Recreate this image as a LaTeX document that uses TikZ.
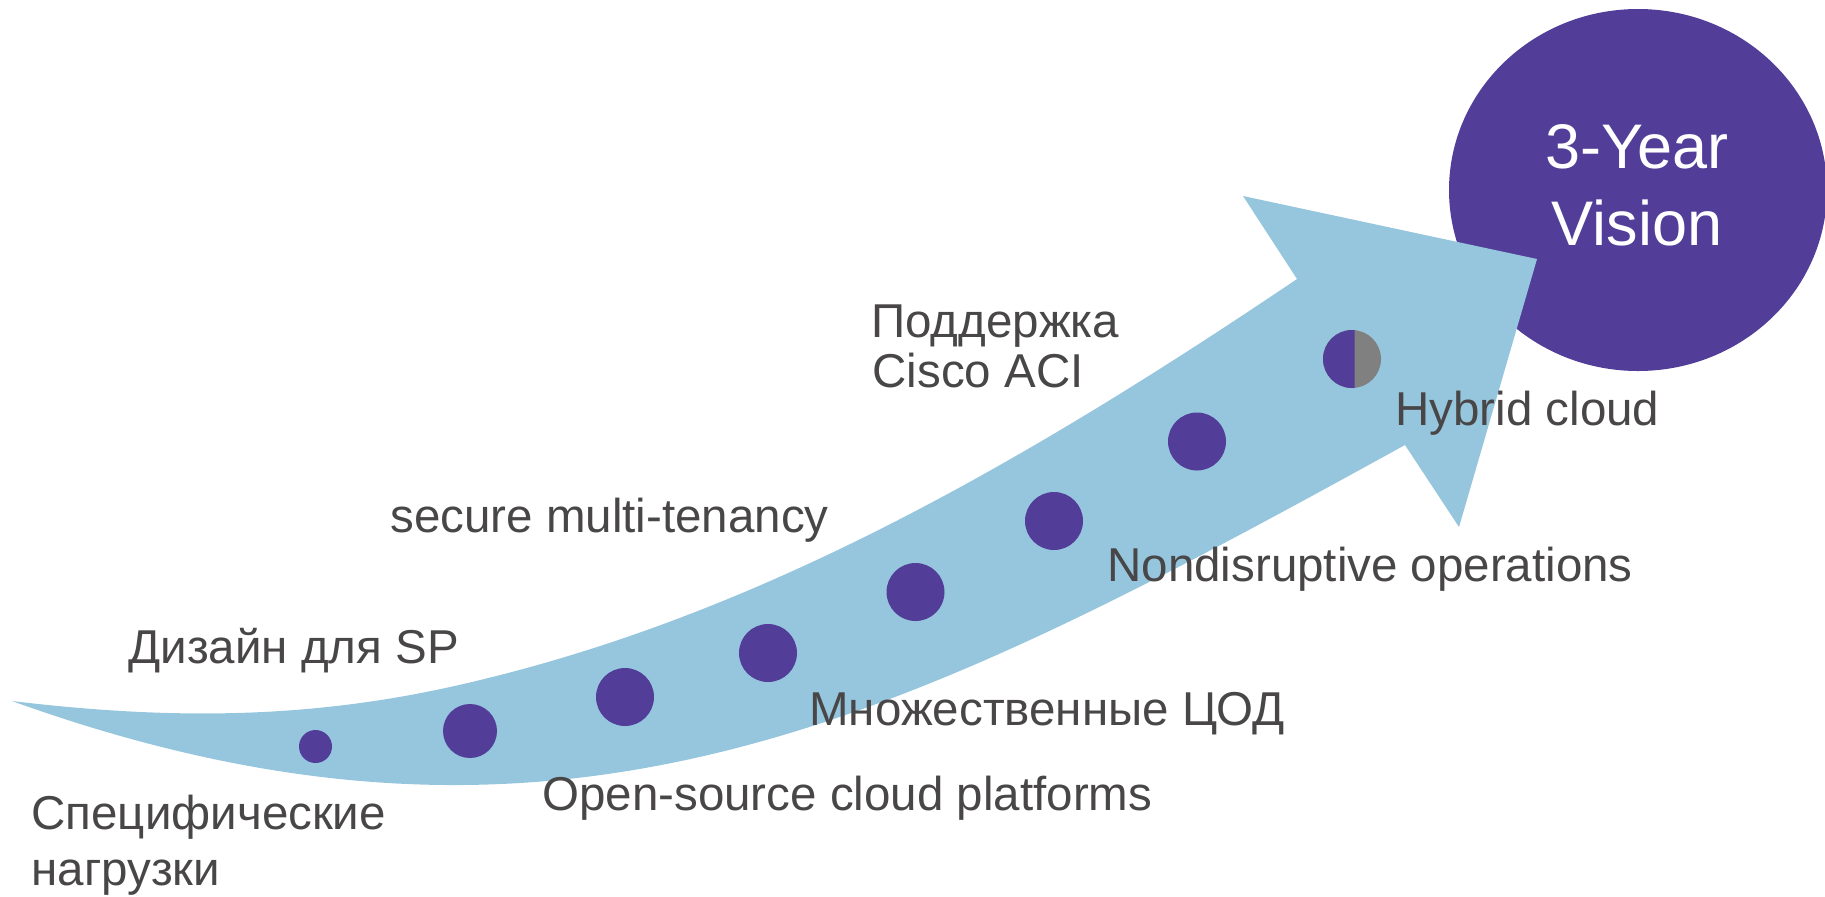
\documentclass[tikz,border=0pt]{standalone}
\usepackage{fontspec}
\setmainfont{Liberation Sans}
\usetikzlibrary{shapes.geometric}
\definecolor{arrowblue}{RGB}{150,198,222}
\definecolor{vpurple}{RGB}{82,62,152}
\definecolor{halfgray}{RGB}{128,128,128}
\definecolor{txtgray}{RGB}{72,70,70}
\begin{document}
\begin{tikzpicture}[x=0.5pt,y=-0.5pt,
  lbl/.style={anchor=base west, inner sep=0pt, text=txtgray, font=\fontsize{23.75}{28}\selectfont},
  vislbl/.style={anchor=base, inner sep=0pt, text=white, font=\fontsize{31.5}{37}\selectfont},
  dotnode/.style={circle, fill=vpurple, inner sep=0pt, minimum size=29pt},
  visionbox/.style={ellipse, fill=vpurple, inner sep=0pt, minimum width=189pt, minimum height=181pt}]
\useasboundingbox (0,0) rectangle (1825,896);
% vision ellipse
\node[visionbox] (vision) at (1638,190) {};
% arrow
\coordinate (tail) at (12,701);
\coordinate (notchtop) at (1297,279);
\coordinate (barbtop) at (1243,196);
\coordinate (tip) at (1537,259);
\coordinate (barbbot) at (1459,527);
\coordinate (notchbot) at (1405,445);
\fill[arrowblue] (notchtop) -- (barbtop) -- (tip) -- (barbbot) -- (notchbot)
  .. controls (905,720) and (562,899) .. (tail)
  .. controls (162,719) and (300,720) .. (450,687)
  .. controls (735,624) and (997,481.5) .. (notchtop)
  -- cycle;
% dots
\node[dotnode, minimum size=16.5pt] (d1) at (315.5,746.5) {};
\node[dotnode, minimum size=27pt] (d2) at (470,731) {};
\node[dotnode] (d3) at (625,697) {};
\node[dotnode] (d4) at (768,653) {};
\node[dotnode] (d5) at (915.5,592) {};
\node[dotnode] (d6) at (1054,521) {};
\node[dotnode] (d7) at (1197,441.5) {};
\node[dotnode, fill=halfgray] (d8) at (1352,359) {};
\begin{scope}
  \clip (1300,320) rectangle (1354.5,400);
  \fill[vpurple] (d8.center) circle[radius=14.5pt];
\end{scope}
% labels
\node[lbl] (spec1) at (31,829) {Специфические};
\node[lbl] (spec2) at (31,885) {нагрузки};
\node[lbl] (sp) at (128,663) {Дизайн для SP};
\node[lbl] (smt) at (390,532) {secure multi-tenancy};
\node[lbl] (osc) at (542,810) {Open-source cloud platforms};
\node[lbl] (mcod) at (809,725) {Множественные ЦОД};
\node[lbl] (ndo) at (1107,581) {Nondisruptive operations};
\node[lbl] (aci1) at (871,337) {Поддержка};
\node[lbl] (aci2) at (872,387) {Cisco ACI};
\node[lbl] (hyb) at (1395,425) {Hybrid cloud};
\node[vislbl] (vis1) at (1637,168) {3-Year};
\node[vislbl] (vis2) at (1637,245) {Vision};
\end{tikzpicture}
\end{document}
